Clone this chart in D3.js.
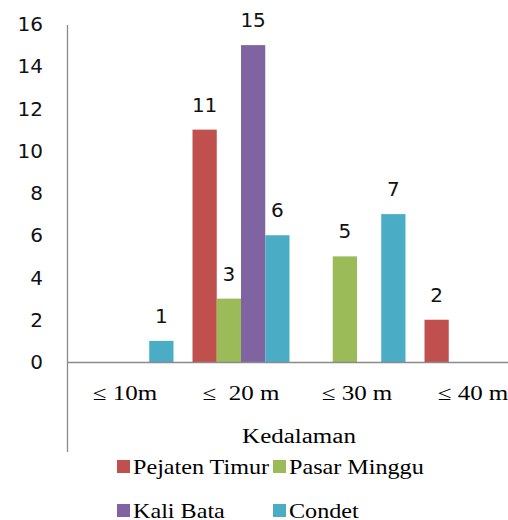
<!DOCTYPE html>
<html>
<head>
<meta charset="utf-8">
<script src="https://cdn.jsdelivr.net/npm/d3@7"></script>
<style>
  body { margin: 0; background: #fff; }
  svg { display: block; }
</style>
</head>
<body>
<svg id="chart" width="508" height="520"></svg>
<script>
// chart values
const categories = ["\u2264 10m", "\u2264  20 m", "\u2264 30 m", "\u2264 40 m"];
const seriesNames = ["Pejaten Timur", "Pasar Minggu", "Kali Bata", "Condet"];
const pejatenTimur = [0, 11, 0, 2];
const pasarMinggu = [0, 3, 5, 0];
const kaliBata = [0, 15, 0, 0];
const condet = [1, 6, 7, 0];
const yTicks = [0, 2, 4, 6, 8, 10, 12, 14, 16];
const axisTitle = "Kedalaman";

const colors = ["#C0504D", "#9BBB59", "#8064A2", "#4BACC6"];
const series = [pejatenTimur, pasarMinggu, kaliBata, condet];

const svg = d3.select("#chart");
const serif = "'Liberation Serif', 'Times New Roman', serif";
const sans = "'DejaVu Sans', sans-serif";
const stretch = 1.25;

// plot area (runs past the right edge, like the source)
const plotLeft = 67, plotRight = 531, plotTop = 24, plotBottom = 362;

const x0 = d3.scaleBand().domain(categories).range([plotLeft, plotRight]);
const gap = 19;
const x1 = d3.scaleBand().domain(d3.range(series.length))
    .range([gap / 2, x0.bandwidth() - gap / 2]);
const y = d3.scaleLinear().domain([0, 16]).range([plotBottom, plotTop]);

// y labels
svg.append("g").selectAll("text").data(yTicks).join("text")
    .attr("x", 43).attr("y", d => y(d))
    .attr("dy", "0.36em")
    .attr("text-anchor", "end")
    .attr("font-family", sans).attr("font-size", 20)
    .attr("fill", "#111")
    .text(d => d);

// bars
let bars = [];
series.forEach((vals, s) => {
    vals.forEach((v, i) => { if (v > 0) bars.push({ s: s, i: i, v: v }); });
});

const gBars = svg.append("g");
gBars.selectAll("rect").data(bars).join("rect")
    .attr("x", d => x0(categories[d.i]) + x1(d.s))
    .attr("y", d => y(d.v))
    .attr("width", x1.bandwidth())
    .attr("height", d => plotBottom - y(d.v))
    .attr("fill", d => colors[d.s]);

gBars.selectAll("text").data(bars).join("text")
    .attr("x", d => x0(categories[d.i]) + x1(d.s) + x1.bandwidth() / 2)
    .attr("y", d => y(d.v) - 18)
    .attr("text-anchor", "middle")
    .attr("font-family", sans).attr("font-size", 20)
    .attr("fill", "#111")
    .text(d => d.v);

// axes lines
svg.append("line")
    .attr("x1", plotLeft + 0.5).attr("x2", plotLeft + 0.5)
    .attr("y1", plotTop + 1).attr("y2", 452)
    .attr("stroke", "#8a8a8a").attr("stroke-width", 1.3);
svg.append("line")
    .attr("x1", plotLeft).attr("x2", 508)
    .attr("y1", plotBottom + 0.5).attr("y2", plotBottom + 0.5)
    .attr("stroke", "#8a8a8a").attr("stroke-width", 1.3);

// category labels
svg.append("g").selectAll("text").data(categories).join("text")
    .attr("transform", d => `translate(${x0(d) + x0.bandwidth() / 2},400) scale(${stretch},1)`)
    .attr("text-anchor", "middle")
    .attr("font-family", serif).attr("font-size", 20)
    .style("white-space", "pre")
    .attr("fill", "#000")
    .text(d => d);

svg.append("text")
    .attr("transform", `translate(299,443) scale(${stretch},1)`)
    .attr("text-anchor", "middle")
    .attr("font-family", serif).attr("font-size", 20)
    .attr("fill", "#000")
    .text(axisTitle);

// legend, two rows of two (second row is clipped by the frame, as in the source)
const legend = svg.append("g").selectAll("g").data(seriesNames).join("g")
    .attr("transform", (d, i) => `translate(${i % 2 ? 273 : 117},${i < 2 ? 474 : 518})`);
legend.append("rect")
    .attr("x", 0).attr("y", -14)
    .attr("width", 13).attr("height", 13)
    .attr("fill", (d, i) => colors[i]);
legend.append("text")
    .attr("transform", "translate(16,0) scale(1.15,1)")
    .attr("font-family", serif).attr("font-size", 21)
    .attr("fill", "#000")
    .text(d => d);
</script>
</body>
</html>
